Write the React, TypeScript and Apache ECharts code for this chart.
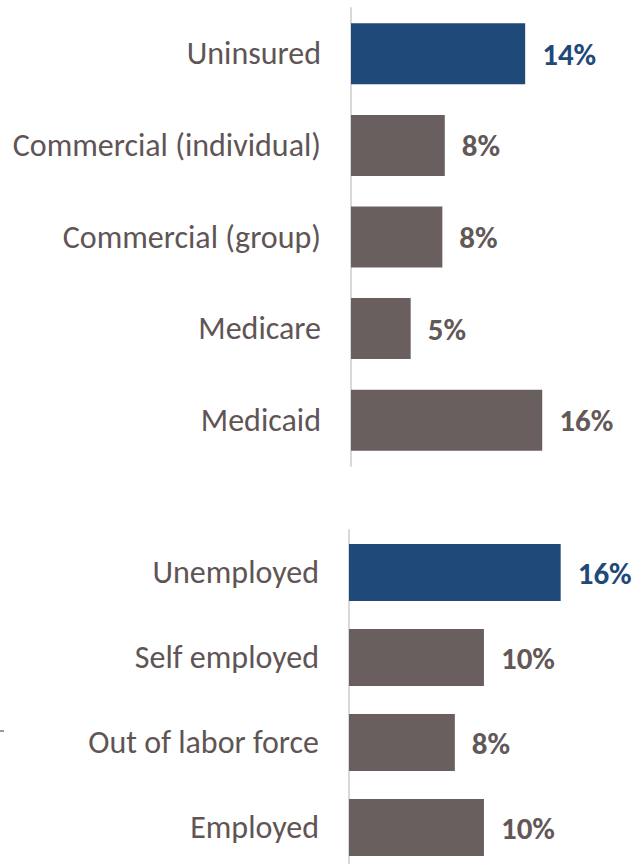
import React, { useEffect, useRef } from "react";
import * as echarts from "echarts";

const topCategories = ["Uninsured", "Commercial (individual)", "Commercial (group)", "Medicare", "Medicaid"];
const topValues = [14.3, 7.7, 7.5, 4.9, 15.7];
const bottomCategories = ["Unemployed", "Self employed", "Out of labor force", "Employed"];
const bottomValues = [16.0, 10.2, 8.0, 10.2];
const highlightIndex = 0;

const BLUE = "#1f4979";
const GRAY = "#6a5f5f";
const LABEL_GRAY = "#5f5555";
const FONT = "Carlito, Lato, 'Liberation Sans', sans-serif";

function buildData(values: number[]) {
  return values.map((v, i) => {
    const hl = i === highlightIndex;
    return {
      value: v,
      itemStyle: { color: hl ? BLUE : GRAY },
      label: { color: hl ? BLUE : "#625858" },
    };
  });
}

export default function App() {
  const ref = useRef<HTMLDivElement>(null);
  useEffect(() => {
    if (!ref.current) return;
    const chart = echarts.init(ref.current, null, { renderer: "svg" });
    const yAxisCommon = {
      type: "category" as const,
      inverse: true,
      axisLine: { show: true, lineStyle: { color: "#d9d9d9", width: 2 } },
      axisTick: { show: false },
      axisLabel: {
        color: LABEL_GRAY,
        fontFamily: FONT,
        fontSize: 32,
        margin: 30,
      },
      splitLine: { show: false },
    };
    const xAxisCommon = {
      type: "value" as const,
      min: 0,
      max: 20,
      show: false,
      splitLine: { show: false },
    };
    const labelCommon = {
      show: true,
      position: "right" as const,
      distance: 17,
      fontFamily: FONT,
      fontSize: 31,
      fontWeight: "bold" as const,
      formatter: (p: any) => Math.round(p.value) + "%",
    };
    chart.setOption({
      animation: false,
      backgroundColor: "#ffffff",
      grid: [
        { left: 351, top: 8, width: 243.6, height: 458 },
        { left: 349, top: 530, width: 264.6, height: 340 },
      ],
      xAxis: [
        { ...xAxisCommon, gridIndex: 0 },
        { ...xAxisCommon, gridIndex: 1 },
      ],
      yAxis: [
        { ...yAxisCommon, gridIndex: 0, data: topCategories },
        { ...yAxisCommon, gridIndex: 1, data: bottomCategories, axisLabel: { ...yAxisCommon.axisLabel, margin: 30 } },
      ],
      series: [
        {
          type: "bar",
          xAxisIndex: 0,
          yAxisIndex: 0,
          barWidth: 61,
          data: buildData(topValues),
          label: labelCommon,
        },
        {
          type: "bar",
          xAxisIndex: 1,
          yAxisIndex: 1,
          barWidth: 57,
          data: buildData(bottomValues),
          label: labelCommon,
        },
      ],
      graphic: [
        { type: "rect", left: 0, top: 730, shape: { width: 4, height: 2 }, style: { fill: "#9a9a9a" } },
      ],
    });
    return () => chart.dispose();
  }, []);
  return (
    <div style={{ position: "fixed", left: 0, top: 0, width: 634, height: 864, overflow: "hidden", background: "#fff" }}>
      <div ref={ref} style={{ width: 634, height: 880 }} />
    </div>
  );
}
